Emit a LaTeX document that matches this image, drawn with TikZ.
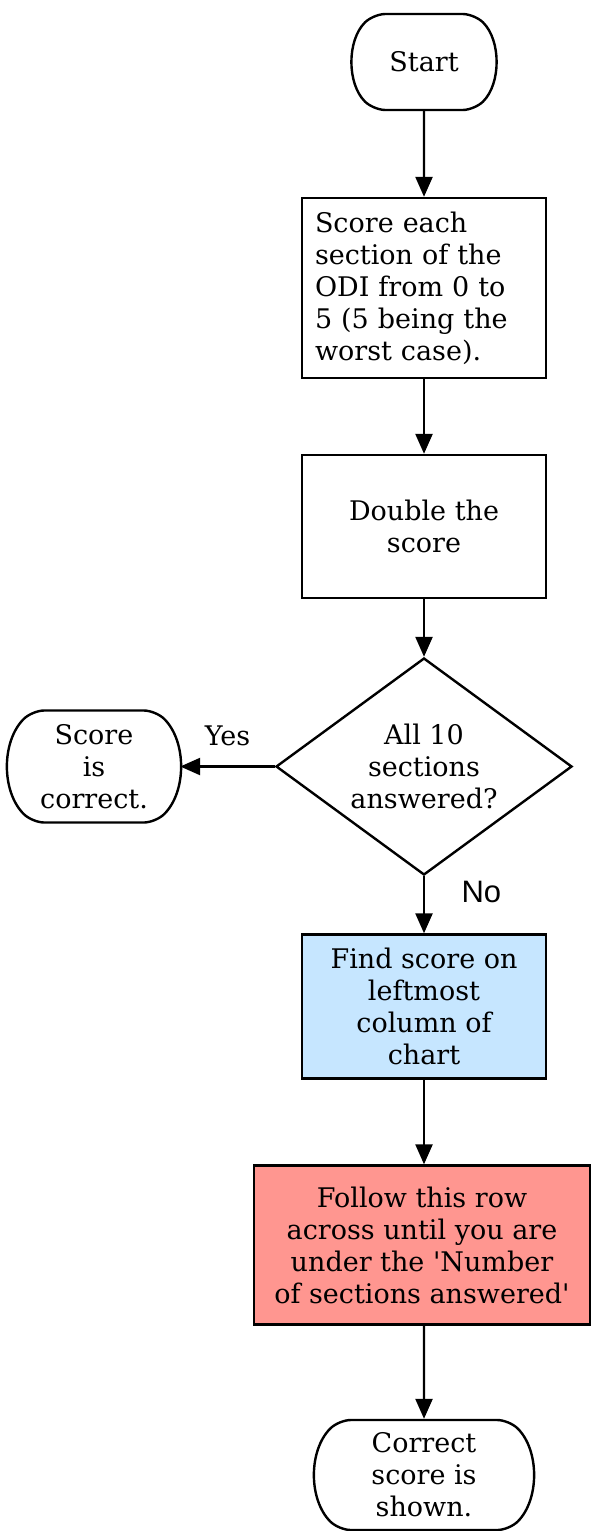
\documentclass[tikz,border=0pt]{standalone}
\usepackage{fontspec}
\setmainfont{DejaVu Serif}
\newfontfamily\labelsans{Liberation Sans}
\usepackage{tikz}
\usetikzlibrary{shapes.geometric}
\usetikzlibrary{shapes.misc}
\usetikzlibrary{positioning}
\usetikzlibrary{arrows.meta}

\definecolor{chartblue}{RGB}{198,230,255}
\definecolor{rowred}{RGB}{255,150,144}

\begin{document}
\begin{tikzpicture}[x=1pt,y=1pt,>={Triangle[length=20pt,width=17pt]},node distance=240pt,
	line width=2.4pt,font=\fontsize{27}{32}\selectfont,
	term node/.style={rounded rectangle,rounded rectangle arc length=90,rounded corners=12pt,draw,align=center,inner sep=0pt},
	proc node/.style={rectangle,draw,align=center,minimum width=244pt,inner sep=6pt},
	check node/.style={diamond,draw,align=center,aspect=1.36,minimum width=296pt,minimum height=217pt,inner sep=0pt}]
	
	\useasboundingbox (0,0) rectangle (591,-1531);
	
	\node[term node,minimum width=141pt,minimum height=96pt] (start) at (424,-62) {Start};
	\node[proc node,align=left,text width=218pt,inner sep=13pt,minimum height=180pt] (score) [below of=start,node distance=226pt] {Score each\\section of the\\ODI from 0 to\\5 (5 being the\\worst case).};
	\node[proc node,minimum height=143pt] (double) [below of=score,node distance=238.5pt] {Double the\\score};
	\node[check node] (check) [below of=double] {All 10\\sections\\answered?};
	\node[term node,minimum width=170pt,minimum height=112pt] (ok) [left of=check,node distance=330pt] {Score\\is\\correct.};
	\node[proc node,fill=chartblue,minimum height=144pt] (chart) [below of=check] {Find score on\\leftmost\\column of\\chart};
	\node[proc node,fill=rowred,minimum width=336pt,minimum height=159pt,inner sep=2pt] (follow) [below of=chart,node distance=238.5pt,xshift=-2pt] {Follow this row\\across until you are\\under the \textquotesingle Number\\of sections answered\textquotesingle};
	\node[term node,minimum width=216pt,minimum height=110pt] (shown) [below of=chart,node distance=468.5pt] {Correct\\score is\\shown.};
	
	\draw[->] (start) -- (score);
	\draw[->] (score) -- (double);
	\draw[->] (double) -- (check);
	\draw[->] (check) -- node[above=16pt] {Yes} (ok);
	\draw[->] (check) -- node[right=33pt,pos=0.27,font=\labelsans\fontsize{31}{34}\selectfont] {No} (chart);
	\draw[->] (chart) -- (chart |- follow.north);
	\draw[->] (chart |- follow.south) -- (shown);
\end{tikzpicture}
\end{document}
